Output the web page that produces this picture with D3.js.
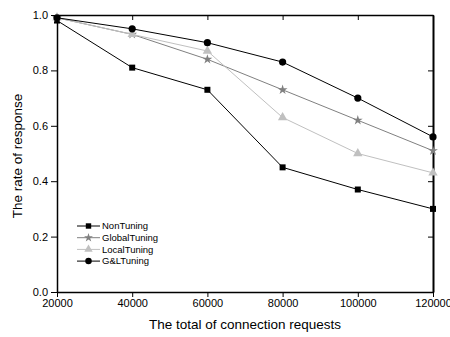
<!DOCTYPE html>
<html><head><meta charset="utf-8">
<script src="https://cdn.jsdelivr.net/npm/d3@7"></script>
<style>body{margin:0;background:#fff;} text{font-family:Arial,"Liberation Sans",sans-serif;}</style>
</head><body><svg id="c" width="450" height="337"></svg>
<script>
const xValues = [20000, 40000, 60000, 80000, 100000, 120000];
const nonTuning = [0.98, 0.81, 0.73, 0.45, 0.37, 0.30];
const globalTuning = [0.99, 0.93, 0.84, 0.73, 0.62, 0.51];
const localTuning = [0.99, 0.93, 0.87, 0.63, 0.50, 0.43];
const glTuning = [0.99, 0.95, 0.90, 0.83, 0.70, 0.56];
const seriesNames = ["NonTuning", "GlobalTuning", "LocalTuning", "G&LTuning"];
const yTicks = [0.0, 0.2, 0.4, 0.6, 0.8, 1.0];

const series = [
  {name: seriesNames[0], values: nonTuning, color: "#000", marker: "square"},
  {name: seriesNames[1], values: globalTuning, color: "#808080", marker: "star"},
  {name: seriesNames[2], values: localTuning, color: "#c0c0c0", marker: "triangle"},
  {name: seriesNames[3], values: glTuning, color: "#000", marker: "circle"}
];

const svg = d3.select("#c");
const L = 57, R = 433, T = 15, B = 292;
const x = d3.scaleLinear().domain([20000, 120000]).range([L, R]);
const y = d3.scaleLinear().domain([0, 1]).range([B, T]);

// axes
const gx = svg.append("g").attr("transform", `translate(0,${B})`)
  .call(d3.axisBottom(x).tickValues(xValues).tickFormat(d3.format("d")).tickSize(5).tickPadding(2).tickSizeOuter(0));
const gy = svg.append("g").attr("transform", `translate(${L},0)`)
  .call(d3.axisLeft(y).tickValues(yTicks).tickFormat(d3.format(".1f")).tickSize(6).tickPadding(3).tickSizeOuter(0));
const gt = svg.append("g").attr("transform", `translate(0,${T})`)
  .call(d3.axisBottom(x).tickValues(xValues).tickFormat("").tickSize(5).tickSizeOuter(0));
const gr = svg.append("g").attr("transform", `translate(${R},0)`)
  .call(d3.axisLeft(y).tickValues(yTicks).tickFormat("").tickSize(5).tickSizeOuter(0));
[gx, gy, gt, gr].forEach(g => {
  g.selectAll("path.domain").attr("stroke", "#000").attr("stroke-width", 1.5);
  g.selectAll(".tick line").attr("stroke", "#000").attr("stroke-width", 1);
  g.selectAll(".tick text").attr("font-size", 11).attr("fill", "#000")
    .attr("font-family", "Arial, 'Liberation Sans', sans-serif");
});
gr.select("path.domain").attr("stroke-width", 2);

// titles
svg.append("text").attr("x", 245).attr("y", 329).attr("text-anchor", "middle")
  .attr("font-size", 13.5).text("The total of connection requests");
svg.append("text").attr("transform", `translate(22,156) rotate(-90)`)
  .attr("text-anchor", "middle").attr("font-size", 13.5).text("The rate of response");

function drawMarker(g, type, cx, cy, color, s) {
  if (type === "square") {
    g.append("rect").attr("x", cx - s * 3).attr("y", cy - s * 3).attr("width", s * 6).attr("height", s * 6).attr("fill", color);
  } else if (type === "circle") {
    g.append("circle").attr("cx", cx).attr("cy", cy).attr("r", s * 3.6).attr("fill", color);
  } else if (type === "triangle") {
    g.append("path").attr("d", d3.symbol(d3.symbolTriangle, 38 * s * s)()).attr("transform", `translate(${cx},${cy})`).attr("fill", color);
  } else if (type === "star") {
    g.append("path").attr("d", d3.symbol(d3.symbolStar, 30 * s * s)()).attr("transform", `translate(${cx},${cy})`).attr("fill", color);
  }
}

const line = d3.line().x((d, i) => x(xValues[i])).y(d => y(d));
series.forEach(s => {
  const g = svg.append("g");
  g.append("path").datum(s.values).attr("d", line).attr("fill", "none").attr("stroke", s.color).attr("stroke-width", 1);
  s.values.forEach((v, i) => drawMarker(g, s.marker, x(xValues[i]), y(v), s.color, 1));
});

// legend
const lg = svg.append("g");
series.forEach((s, i) => {
  const ly = 226 + i * 11.7;
  lg.append("line").attr("x1", 77).attr("x2", 100).attr("y1", ly).attr("y2", ly).attr("stroke", s.color).attr("stroke-width", 1);
  drawMarker(lg, s.marker, 88.5, ly, s.color, 0.9);
  lg.append("text").attr("x", 102).attr("y", ly).attr("dy", "0.35em").attr("font-size", 9.5).text(s.name);
});
</script></body></html>
